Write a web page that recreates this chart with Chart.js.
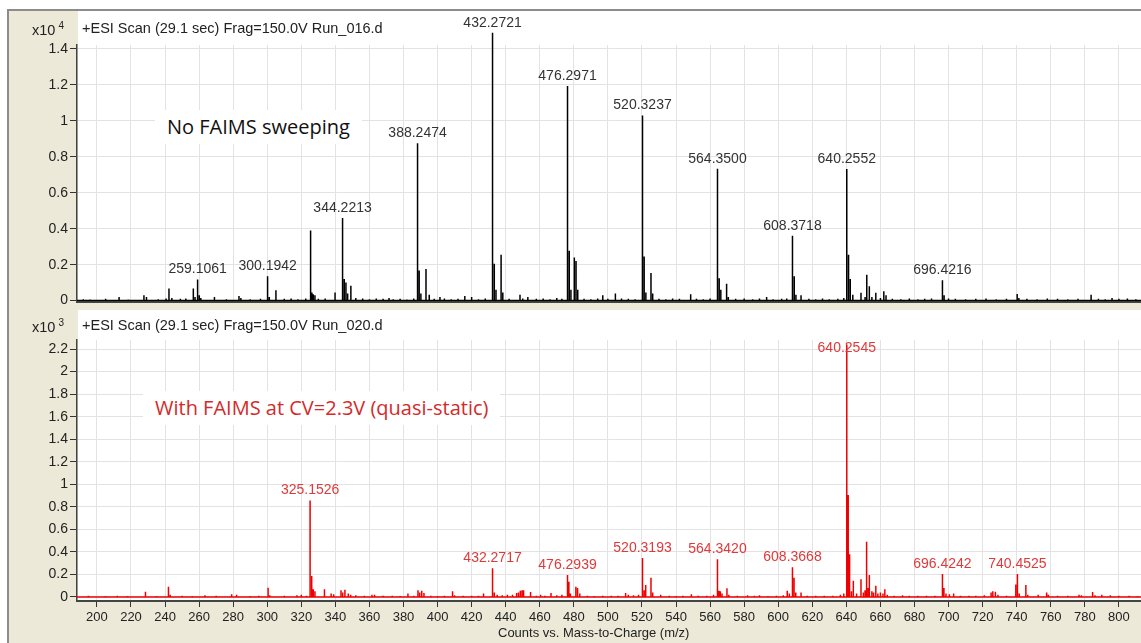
<!DOCTYPE html>
<html>
<head>
<meta charset="utf-8">
<script src="https://cdn.jsdelivr.net/npm/chart.js@4.4.1/dist/chart.umd.min.js"></script>
<style>
  body { margin: 0; background: #fff; }
  #wrap { position: relative; width: 1141px; height: 643px; overflow: hidden; font-family: "Liberation Sans", Arial, sans-serif; }
  #frame { position: absolute; left: 7px; top: 9px; right: 0; bottom: 0; background: #ece9d8; border-top: 2px solid #8c8c8c; border-left: 2px solid #8c8c8c; }
  .panel { position: absolute; left: 78px; right: 0; background: #fff; }
  .holder { position: absolute; left: 0; }
  .hdr { position: absolute; left: 82px; font-size: 14.5px; color: #222; white-space: nowrap; }
  .exp { position: absolute; left: 32px; font-size: 14.5px; color: #222; }
  .exp sup { font-size: 10px; margin-left: 3px; }
  .note { position: absolute; background: #fff; white-space: nowrap; font-family: "Open Sans", "Noto Sans", sans-serif; font-size: 20px; line-height: 26px; padding: 4px 12px; }
  #xtitle { position: absolute; top: 625px; left: 498px; font-size: 13px; color: #222; white-space: nowrap; }
</style>
</head>
<body>
<div id="wrap">
  <div id="frame"></div>
  <div class="panel" style="top:11px;height:291px"></div>
  <div class="panel" style="top:310px;height:291px"></div>
  <div class="holder" style="top:0"><canvas id="top" width="1141" height="312"></canvas></div>
  <div class="holder" style="top:312px"><canvas id="bottom" width="1141" height="331"></canvas></div>
  <div class="exp" style="top:20px">x10<sup>4</sup></div>
  <div class="hdr" style="top:20px">+ESI Scan (29.1 sec) Frag=150.0V Run_016.d</div>
  <div class="exp" style="top:317px">x10<sup>3</sup></div>
  <div class="hdr" style="top:317px">+ESI Scan (29.1 sec) Frag=150.0V Run_020.d</div>
  <div class="note" style="left:155px;top:110px;color:#111">No FAIMS sweeping</div>
  <div class="note" style="left:143px;top:391px;color:#d42a2a">With FAIMS at CV=2.3V (quasi-static)</div>
  <div id="xtitle">Counts vs. Mass-to-Charge (m/z)</div>
</div>
<script>
// m/z axis
const mzMin = 188.3;
const mzMax = 813;

// Run_016 (no FAIMS), counts x10^4
const topMz = [192, 196, 205.1, 213, 218.4, 227.6, 229.1, 236, 240.6, 242.3, 244, 249, 252.2, 256.6, 257.6,
  259.1061, 260.1, 261, 269, 276, 283.4, 284.5, 290, 296, 300.1942, 301.2, 305.1, 310, 314, 318, 322.6,
  325.45, 326.2, 327, 328, 330, 334, 339.8, 344.2213, 345.2, 346.2, 347.2, 349.1, 352, 356, 360, 364, 368,
  371.5, 374, 378, 382, 386, 388.2474, 389.2, 390.2, 393.2, 395.1, 398, 401.4, 404, 408, 412, 416, 420, 424,
  428, 432.2721, 433.3, 434.3, 437.3, 438.3, 442, 448.4, 450, 453, 458, 462, 466, 470, 473, 476.2971, 477.3,
  478.3, 480.3, 481.3, 482.3, 486, 490, 494, 497, 500, 504.4, 508, 512, 516, 520.3237, 521.3, 522.3, 525.3,
  526.3, 530, 534, 538, 542, 548.6, 552, 556, 560, 564.35, 565.35, 566.3, 569.7, 570.7, 575, 580, 585, 589,
  593.2, 597, 602, 605, 608.3718, 609.4, 610.4, 613.4, 618, 622, 626, 630, 635, 638.5, 640.2552, 641.3,
  642.3, 643.8, 648.6, 651, 652, 653.5, 655, 657.3, 660, 662, 663.3, 667, 672, 677, 682, 686, 690, 696.4216,
  697.4, 700, 704, 710, 716, 722, 728, 734, 740.3, 741.3, 746, 752, 758, 764, 770, 776, 783.7, 788, 792, 796,
  800, 805, 810];
const topCounts = [0.008, 0.006, 0.01, 0.02, 0.006, 0.03, 0.02, 0.008, 0.012, 0.067, 0.015, 0.01, 0.012, 0.067, 0.02,
  0.117, 0.03, 0.015, 0.02, 0.008, 0.025, 0.015, 0.008, 0.01, 0.135, 0.02, 0.057, 0.01, 0.012, 0.008, 0.012,
  0.39, 0.045, 0.035, 0.03, 0.01, 0.012, 0.045, 0.46, 0.12, 0.1, 0.04, 0.083, 0.015, 0.012, 0.008, 0.012, 0.01,
  0.015, 0.008, 0.01, 0.006, 0.012, 0.876, 0.168, 0.04, 0.176, 0.033, 0.01, 0.02, 0.012, 0.008, 0.01, 0.025, 0.02, 0.008,
  0.012, 1.49, 0.205, 0.06, 0.255, 0.045, 0.01, 0.033, 0.012, 0.02, 0.01, 0.012, 0.008, 0.015, 0.01, 1.194, 0.278,
  0.06, 0.24, 0.22, 0.06, 0.01, 0.008, 0.012, 0.03, 0.01, 0.04, 0.012, 0.01, 0.008, 1.03, 0.246, 0.045, 0.154,
  0.04, 0.01, 0.008, 0.012, 0.01, 0.035, 0.01, 0.008, 0.012, 0.733, 0.124, 0.06, 0.094, 0.02, 0.01, 0.012, 0.008, 0.012,
  0.02, 0.008, 0.01, 0.012, 0.361, 0.135, 0.033, 0.03, 0.01, 0.008, 0.012, 0.008, 0.01, 0.015, 0.732, 0.255,
  0.12, 0.033, 0.043, 0.02, 0.144, 0.08, 0.02, 0.043, 0.015, 0.052, 0.03, 0.01, 0.008, 0.012, 0.008, 0.01, 0.012, 0.113,
  0.03, 0.012, 0.01, 0.008, 0.01, 0.012, 0.008, 0.01, 0.037, 0.015, 0.01, 0.008, 0.012, 0.01, 0.008, 0.01, 0.033, 0.01, 0.008, 0.015,
  0.01, 0.012, 0.008];
const topLabeled = [259.1061, 300.1942, 344.2213, 388.2474, 432.2721, 476.2971, 520.3237, 564.35, 608.3718, 640.2552, 696.4216];

// Run_020 (FAIMS at CV=2.3V), counts x10^3
const botMz = [195, 205, 212, 218, 228.5, 235, 242, 243, 250, 256, 263.4, 270, 279.1, 282, 290, 295, 300.5, 301.5,
  310, 317.4, 320, 323, 325.1526, 326.1, 327, 328, 333.6, 337.5, 339, 343.3, 344.3, 345.6, 347.6, 349, 352, 357,
  361.5, 363, 368, 373.4, 378, 382.6, 386, 388.5, 389.5, 390.7, 392, 396, 400, 404, 408.8, 410, 415, 420, 424, 427,
  432.2717, 433.3, 435, 438, 441, 444, 446.4, 447.5, 448.6, 449.6, 450.5, 454.6, 458, 460.5, 463, 466.6, 470, 473,
  476.2939, 477.1, 478, 481.2, 482.2, 483.5, 488, 492, 497, 502, 506, 510.4, 512, 515, 518, 520.3193, 521.3, 522.2,
  525.3, 526.3, 531, 536, 540, 544, 549, 553, 558, 562, 564.342, 565.2, 566, 567, 569.9, 571, 576, 582, 586, 589,
  594, 599, 603, 605.3, 606.5, 608.3668, 609.3, 610.3, 613.4, 617, 622, 627, 632, 636.5, 638.5, 640.2545, 641.1,
  641.9, 643, 644.1, 646, 648.6, 650, 651, 651.9, 652.8, 653.5, 655, 656, 657.3, 658.5, 660, 661.5, 662.6, 664,
  668, 673, 677, 682, 687, 692, 696.4242, 697.3, 698.5, 700.5, 703, 707, 712, 716, 721, 725, 726, 727.5, 729, 734,
  739.5, 740.4525, 741.5, 745.4, 746.5, 752.6, 757.6, 758.6, 764, 770, 776.6, 778, 784.6, 786, 790, 795, 800, 806, 811];
const botCounts = [0.01, 0.008, 0.01, 0.008, 0.047, 0.008, 0.092, 0.02, 0.01, 0.008, 0.015, 0.01, 0.024, 0.02, 0.008, 0.01, 0.083, 0.015,
  0.01, 0.015, 0.02, 0.012, 0.855, 0.186, 0.068, 0.05, 0.068, 0.03, 0.025, 0.06, 0.04, 0.065, 0.03, 0.02, 0.015, 0.01,
  0.02, 0.02, 0.01, 0.01, 0.008, 0.03, 0.012, 0.06, 0.04, 0.056, 0.035, 0.01, 0.008, 0.01, 0.05, 0.015, 0.01, 0.012, 0.01, 0.03,
  0.255, 0.04, 0.02, 0.015, 0.02, 0.02, 0.035, 0.04, 0.055, 0.06, 0.06, 0.045, 0.01, 0.02, 0.012, 0.035, 0.015, 0.02,
  0.195, 0.136, 0.03, 0.092, 0.08, 0.03, 0.01, 0.008, 0.012, 0.01, 0.012, 0.035, 0.02, 0.015, 0.02, 0.345, 0.06, 0.106,
  0.171, 0.04, 0.02, 0.01, 0.008, 0.01, 0.025, 0.01, 0.012, 0.02, 0.334, 0.056, 0.05, 0.03, 0.077, 0.02, 0.01, 0.015, 0.01, 0.015,
  0.008, 0.01, 0.015, 0.056, 0.03, 0.263, 0.171, 0.04, 0.04, 0.012, 0.01, 0.012, 0.01, 0.02, 0.03, 2.24, 0.905,
  0.379, 0.05, 0.145, 0.03, 0.157, 0.04, 0.06, 0.491, 0.08, 0.195, 0.05, 0.04, 0.1, 0.03, 0.04, 0.03, 0.068, 0.02,
  0.012, 0.015, 0.01, 0.012, 0.01, 0.012, 0.204, 0.08, 0.03, 0.025, 0.03, 0.01, 0.012, 0.01, 0.015, 0.04, 0.05, 0.047, 0.02, 0.012,
  0.11, 0.204, 0.03, 0.106, 0.02, 0.02, 0.04, 0.02, 0.01, 0.012, 0.02, 0.015, 0.045, 0.015, 0.02, 0.015, 0.012, 0.01, 0.008];
const botLabeled = [325.1526, 432.2717, 476.2939, 520.3193, 564.342, 608.3668, 640.2545, 696.4242, 740.4525];

const font = '"Liberation Sans", Arial, sans-serif';
const gridColor = '#e3e3e3';

// profile-like stick spectrum: baseline between peaks, a spike at each m/z
function sticks(mz, counts) {
    let pts = [{x: mzMin, y: 0}];
    for (let i = 0; i < mz.length; i++) {
        pts.push({x: mz[i], y: 0}, {x: mz[i], y: counts[i]}, {x: mz[i], y: 0});
    }
    pts.push({x: mzMax, y: 0});
    return pts;
}

const peakLabels = {
    id: 'peakLabels',
    afterDatasetsDraw(chart, args, opts) {
        const {ctx, chartArea} = chart;
        const x = chart.scales.x, y = chart.scales.y;
        ctx.save();
        ctx.font = '14px ' + font;
        ctx.fillStyle = opts.color;
        ctx.textAlign = 'center';
        ctx.textBaseline = 'middle';
        opts.peaks.forEach(p => {
            const i = opts.mz.indexOf(p);
            let py = y.getPixelForValue(opts.counts[i]) - 10;
            if (opts.clamp) py = Math.max(py, chartArea.top + 8);
            ctx.fillText(p.toFixed(4), x.getPixelForValue(p), py);
        });
        ctx.restore();
    }
};

function makeChart(id, mz, counts, labeled, o) {
    return new Chart(document.getElementById(id), {
        type: 'line',
        data: {
            datasets: [{
                data: sticks(mz, counts),
                borderColor: o.line,
                borderWidth: 1.5,
                pointRadius: 0,
                tension: 0,
                clip: {left: 0, top: false, right: 0, bottom: 0}
            }]
        },
        options: {
            responsive: false,
            animation: false,
            events: [],
            layout: {padding: {top: o.padTop, left: 0, right: 0, bottom: 0}},
            plugins: {
                legend: {display: false},
                tooltip: {enabled: false},
                peakLabels: {peaks: labeled, mz: mz, counts: counts, color: o.label, clamp: o.clamp}
            },
            scales: {
                x: {
                    type: 'linear',
                    min: mzMin,
                    max: mzMax,
                    ticks: {display: o.xTicks, stepSize: 20, includeBounds: false, autoSkip: false, maxRotation: 0,
                        padding: 3, color: '#222', font: {family: font, size: 13}},
                    grid: {color: gridColor, drawTicks: o.xTicks, tickLength: 6, tickColor: '#333'},
                    border: {color: '#444', width: 2},
                    afterFit: s => { s.height = o.xHeight; }
                },
                y: {
                    min: o.yMin,
                    max: o.yMax,
                    ticks: {stepSize: 0.2, includeBounds: false, padding: 2, color: '#222', font: {family: font, size: 14},
                        callback: v => String(parseFloat(v.toFixed(1)))},
                    grid: {color: gridColor, tickLength: 7, tickColor: '#333'},
                    border: {color: '#444', width: 1.5},
                    afterFit: s => { s.width = 77; }
                }
            }
        },
        plugins: [peakLabels]
    });
}

makeChart('top', topMz, topCounts, topLabeled,
    {line: '#000', label: '#333', clamp: false, padTop: 45, xTicks: false, xHeight: 10, yMin: -0.0056, yMax: 1.422});
makeChart('bottom', botMz, botCounts, botLabeled,
    {line: '#e00', label: '#e0393a', clamp: true, padTop: 28, xTicks: true, xHeight: 42, yMin: -0.0355, yMax: 2.28});
</script>
</body>
</html>
